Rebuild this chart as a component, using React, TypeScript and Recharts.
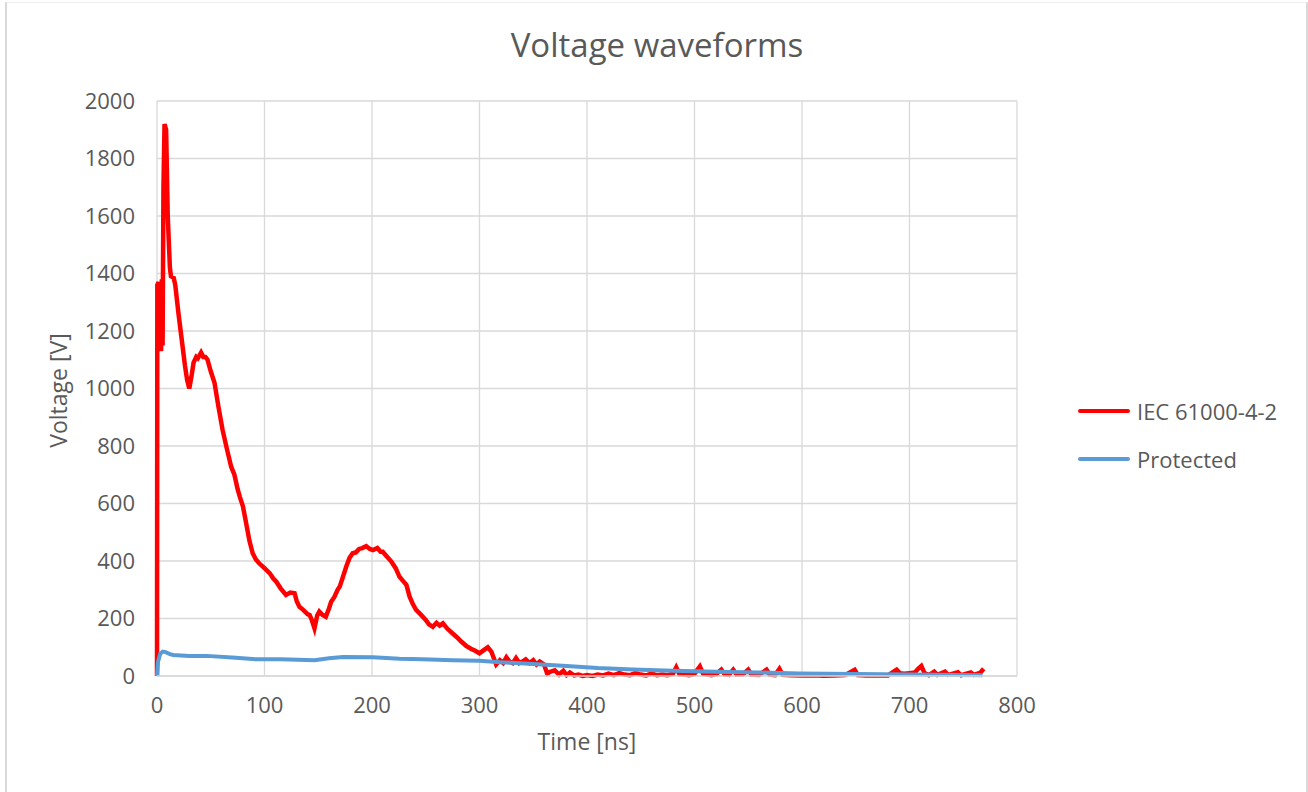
import React from "react";
import { LineChart, Line, XAxis, YAxis, CartesianGrid } from "recharts";

// time [ns], voltage [V]
const iecPoints: [number, number][] = [
  [0, 0], [0.3, 1360], [1.5, 1370], [2.2, 1130], [3, 1360], [3.8, 1130], [4.5, 1380], [5.2, 1150],
  [6, 1700], [7, 1920], [8.5, 1900], [10, 1600], [12, 1420], [13, 1390], [15.5, 1385], [17, 1360],
  [20, 1260], [23, 1170], [26, 1080], [28, 1030], [30, 1000], [32, 1040], [34, 1090], [36.5, 1110],
  [38, 1105], [41, 1125], [43, 1110], [45, 1110], [47, 1100], [50, 1060], [53.5, 1020], [57, 940],
  [61, 856], [65, 790], [69, 728], [72, 700], [75, 650], [77, 624], [80, 589], [83, 530], [86, 470],
  [89, 427], [92, 405], [95, 392], [100, 375], [105, 357], [108, 340], [111, 328], [115, 305],
  [120, 282], [124, 290], [128, 288], [130, 260], [132.5, 241], [136, 230], [140, 215], [142, 212],
  [144, 195], [146.5, 166], [149, 210], [151, 224], [154, 212], [157, 206], [160, 235], [162, 258],
  [165, 275], [168, 300], [170, 311], [173, 345], [176, 380], [179, 410], [182, 427], [185, 430],
  [188, 442], [191, 445], [194.6, 452], [198, 442], [201, 438], [205, 445], [208, 432], [210, 432],
  [214, 415], [218, 398], [222, 375], [225.6, 345], [229, 330], [232, 317], [235, 276], [238, 250],
  [241, 230], [245, 215], [250, 195], [253, 180], [256.6, 171], [260, 185], [263, 175], [266, 183],
  [270, 165], [275, 148], [279, 135], [283, 120], [287.6, 105], [292, 95], [296, 88], [300, 79],
  [304, 90], [307.7, 100], [311, 85], [315.5, 40], [319, 55], [322, 45], [325, 65], [328, 50],
  [331, 45], [334, 62], [337, 45], [340, 50], [343, 58], [346.5, 45], [350, 55], [353, 40], [356, 50],
  [360, 40], [363, 8], [366, 15], [370, 20], [374, 5], [378, 18], [381, 3], [384, 12], [388, 2],
  [392, 5], [396, 0], [400, 3], [405, 0], [410, 5], [415, 2], [420, 8], [425, 3], [430, 10], [435, 5],
  [440, 3], [445, 10], [450, 5], [455, 2], [460, 8], [465, 3], [470, 5], [475, 3], [480, 8], [483, 30],
  [486, 6], [490, 5], [495, 3], [500, 8], [505, 33], [508, 8], [512, 5], [516, 3], [520, 6], [525, 22],
  [528, 6], [532, 4], [536, 22], [539, 5], [545, 6], [550, 22], [553, 5], [560, 4], [567, 22], [570, 5],
  [575, 3], [579, 25], [582, 4], [590, 3], [600, 2], [610, 3], [620, 1], [630, 2], [640, 3], [649, 22],
  [652, 3], [660, 2], [670, 3], [680, 2], [688, 22], [691, 10], [695, 8], [700, 10], [705, 12],
  [708, 25], [711, 35], [714, 10], [718, 3], [723, 15], [726, 4], [733, 15], [736, 4], [745, 13],
  [748, 3], [757, 12], [760, 4], [766, 12], [769, 25],
];

const protectedPoints: [number, number][] = [
  [0, 0], [1, 50], [3, 78], [5.4, 85], [8, 83], [12, 76], [15, 73], [30, 70], [46, 70], [70, 64],
  [92, 58], [115, 58], [139, 56], [146.5, 55], [160, 62], [173, 66], [201, 65], [225.6, 60], [247, 58],
  [275, 55], [300, 53], [319, 48], [350, 42], [381, 35], [410, 28], [442.6, 23], [480, 18], [520, 15],
  [560, 12], [597.7, 9], [650, 7], [700, 5], [768, 3],
];

const xTicks = [0, 100, 200, 300, 400, 500, 600, 700, 800];
const yTicks = [0, 200, 400, 600, 800, 1000, 1200, 1400, 1600, 1800, 2000];

const seriesNames = ["IEC 61000-4-2", "Protected"];
const seriesColors = ["#ff0000", "#5b9bd5"];

const iecData = iecPoints.map(([t, v]) => ({ t, v }));
const protectedData = protectedPoints.map(([t, v]) => ({ t, v }));

const FONT = "'Open Sans', sans-serif";
const TEXT = "#595959";

const LegendBox = () => (
  <div style={{ position: "absolute", left: 1078, top: 387, fontFamily: FONT, fontSize: 22, color: TEXT }}>
    {seriesNames.map((name, i) => (
      <div key={name} style={{ display: "flex", alignItems: "center", height: 48 }}>
        <div style={{ width: 52, height: 4, background: seriesColors[i], borderRadius: 2, marginRight: 7 }} />
        <span>{name}</span>
      </div>
    ))}
  </div>
);

const YTitle = (props: any) => {
  const vb = props.viewBox || { x: 0, y: 0, height: 0 };
  const cx = vb.x + 67;
  const cy = vb.y + vb.height / 2 + 2;
  return (
    <text
      x={cx}
      y={cy}
      transform={`rotate(-90, ${cx}, ${cy})`}
      textAnchor="middle"
      fill={TEXT}
      fontSize={23}
      fontFamily={FONT}
    >
      Voltage [V]
    </text>
  );
};

export default function App() {
  return (
    <div style={{ position: "absolute", left: 0, top: 0, width: 1308, height: 792, background: "#fff", overflow: "hidden" }}>
      <div
        style={{
          position: "absolute",
          left: 5,
          top: 2,
          width: 1299,
          height: 800,
          borderLeft: "2px solid #d9d9d9",
          borderRight: "2px solid #d9d9d9",
          borderTop: "1px solid #eeeeee",
        }}
      />
      <svg width={1308} height={80} style={{ position: "absolute", left: 0, top: 0 }}>
        <text x={657} y={57} textAnchor="middle" fill={TEXT} fontSize={33} fontFamily={FONT}>
          Voltage waveforms
        </text>
      </svg>
      <div style={{ position: "absolute", left: 0, top: 0 }}>
        <LineChart width={1308} height={792} margin={{ top: 101, right: 291, bottom: 0, left: 0 }}>
          <CartesianGrid stroke="#d9d9d9" strokeWidth={1.3} />
          <XAxis
            type="number"
            dataKey="t"
            domain={[0, 800]}
            ticks={xTicks}
            height={116}
            tickLine={false}
            axisLine={{ stroke: "#d9d9d9", strokeWidth: 1.3 }}
            tickMargin={15}
            tick={{ fill: TEXT, fontSize: 22, fontFamily: FONT }}
            label={{ value: "Time [ns]", position: "insideBottom", offset: 42, fill: TEXT, fontSize: 23, fontFamily: FONT }}
          />
          <YAxis
            type="number"
            dataKey="v"
            domain={[0, 2000]}
            ticks={yTicks}
            width={157}
            tickLine={false}
            axisLine={false}
            tickMargin={16}
            tick={{ fill: TEXT, fontSize: 22, fontFamily: FONT }}
            label={<YTitle />}
          />
          <Line
            data={iecData}
            dataKey="v"
            name={seriesNames[0]}
            stroke={seriesColors[0]}
            strokeWidth={4.5}
            dot={false}
            type="linear"
            isAnimationActive={false}
          />
          <Line
            data={protectedData}
            dataKey="v"
            name={seriesNames[1]}
            stroke={seriesColors[1]}
            strokeWidth={4}
            dot={false}
            type="linear"
            isAnimationActive={false}
          />
        </LineChart>
      </div>
      <LegendBox />
    </div>
  );
}
